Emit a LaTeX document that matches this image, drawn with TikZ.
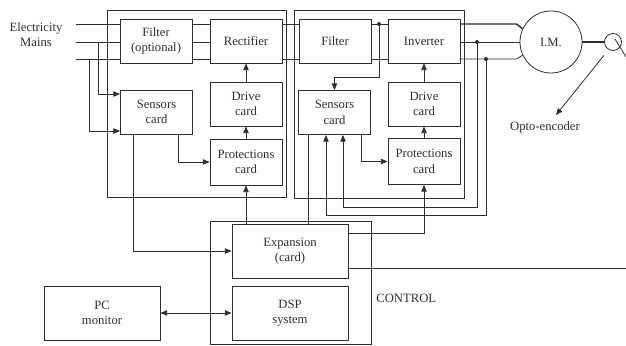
\documentclass[tikz,border=0pt]{standalone}
\usepackage{fontspec}
\setmainfont{Liberation Serif}
\usetikzlibrary{arrows.meta,calc}
\definecolor{ink}{HTML}{2E2E2E}

\begin{document}
\begin{tikzpicture}[x=0.75pt,y=-0.75pt,line width=0.6pt,color=ink,
    box/.style={draw=ink,line width=0.6pt,text=ink,inner sep=0pt,align=center,font=\fontsize{9.5}{11.5}\selectfont,minimum width=54pt,minimum height=33pt},
    tall/.style={box,minimum height=34.5pt},
    wide/.style={box,minimum width=87pt,minimum height=40.5pt},
    lbl/.style={text=ink,align=center,inner sep=0pt,font=\fontsize{9.5}{11.5}\selectfont},
    arr/.style={-{Triangle[length=5pt,width=4pt]}},
    dbl/.style={{Triangle[length=5pt,width=4pt]}-{Triangle[length=5pt,width=4pt]}}]
    \useasboundingbox (0,0) rectangle (626,346);
    \draw (107,10) rectangle (286,197);
    \draw (294,10) rectangle (464,198);
    \draw (210,221) rectangle (371,344);
    \node[box] (filt) at (156,41) {Filter\\(optional)};
    \node[box] (rect) at (246,41) {Rectifier};
    \node[box] (dcf) at (335,41) {Filter};
    \node[box] (inv) at (424,41) {Inverter};
    \node[box] (sens1) at (156.5,112) {Sensors\\card};
    \node[box] (drv1) at (246,104) {Drive\\card};
    \node[tall] (prot1) at (246,162) {Protections\\card};
    \node[box] (sens2) at (334.5,112.5) {Sensors\\card};
    \node[box] (drv2) at (424,104) {Drive\\card};
    \node[tall] (prot2) at (424,161.5) {Protections\\card};
    \node[wide] (exp) at (290,251) {Expansion\\(card)};
    \node[wide] (dsp) at (290,313) {DSP\\system};
    \node[wide] (pc) at (102,313) {PC\\monitor};
    \node[box,circle,minimum size=46.5pt] (im) at (551,42) {I.M.};
    \node[box,circle,minimum size=12.75pt] (enc) at (613,42) {};
    \node[lbl] (mains) at (36,35) {Electricity\\Mains};
    \node[lbl,anchor=west] (ctrl) at (376,298) {CONTROL};
    \node[lbl] (opto) at (545,127) {Opto-encoder};
    \coordinate (m1) at (76,24); \coordinate (m2) at (76,42); \coordinate (m3) at (76,59);
    \coordinate (ja) at (379,24); \coordinate (jb) at (477,42); \coordinate (jc) at (486,59);
    \coordinate (jd) at (98,42); \coordinate (je) at (89,59);
    \coordinate (s2out) at ($(sens2.south)+(-26.5,0)$);
    \coordinate (edge) at (626,268); \coordinate (tail) at (626,57); \coordinate (optotip) at (556,115);
    \foreach \i in {1,2,3} \draw (m\i) -- (m\i -| filt.west) (m\i -| filt.east) -- (m\i -| rect.west);
    \foreach \i in {1,3} \draw (m\i -| rect.east) -- (m\i -| dcf.west) (m\i -| dcf.east) -- (m\i -| inv.west);
    \draw[line width=1.1pt] (m1 -| inv.east) -- ++(56,0) -- (im.155);
    \draw (m2 -| inv.east) -- (im.west);
    \draw (m3 -| inv.east) -- ++(56,0) -- (im.205);
    \fill (ja) circle (1.5pt); \fill (jb) circle (1.5pt); \fill (jc) circle (1.5pt);
    \draw[arr] (ja) -- ++(0,53) -| (sens2.north);
    \draw[arr] (jb) -- ++(0,165) -| ($(sens2.south)+(8.5,0)$);
    \draw[arr] (jc) -- ++(0,156) -| ($(sens2.south)+(-8.5,0)$);
    \draw[arr] (jd) |- ($(sens1.west)+(0,-18)$);
    \draw[arr] (je) |- ($(sens1.west)+(0,19)$);
    \draw[arr] ($(sens1.south)+(21.5,0)$) |- (prot1.west);
    \draw[arr] ($(sens2.south)+(26.5,0)$) |- (prot2.west);
    \draw[arr] (prot1) -- (drv1); \draw[arr] (drv1) -- (rect); \draw[arr] (prot2) -- (drv2); \draw[arr] (drv2) -- (inv);
    \draw[arr] ($(sens1.south)+(-23.5,0)$) |- (exp.west);
    \draw (s2out) -- (s2out |- exp.north);
    \draw[arr] (exp.north -| prot1) -- (prot1.south);
    \draw[arr] ($(exp.east)+(0,-18)$) -| (prot2.south);
    \draw ($(exp.east)+(0,17)$) -- (edge);
    \draw[dbl] (pc) -- (dsp);
    \draw[line width=2pt] (im) -- (enc);
    \draw ($(enc.center)+(2,-3)$) -- (tail);
    \draw[arr,shorten <=5.5pt] (enc.240) -- (optotip);
  \end{tikzpicture}
\end{document}
